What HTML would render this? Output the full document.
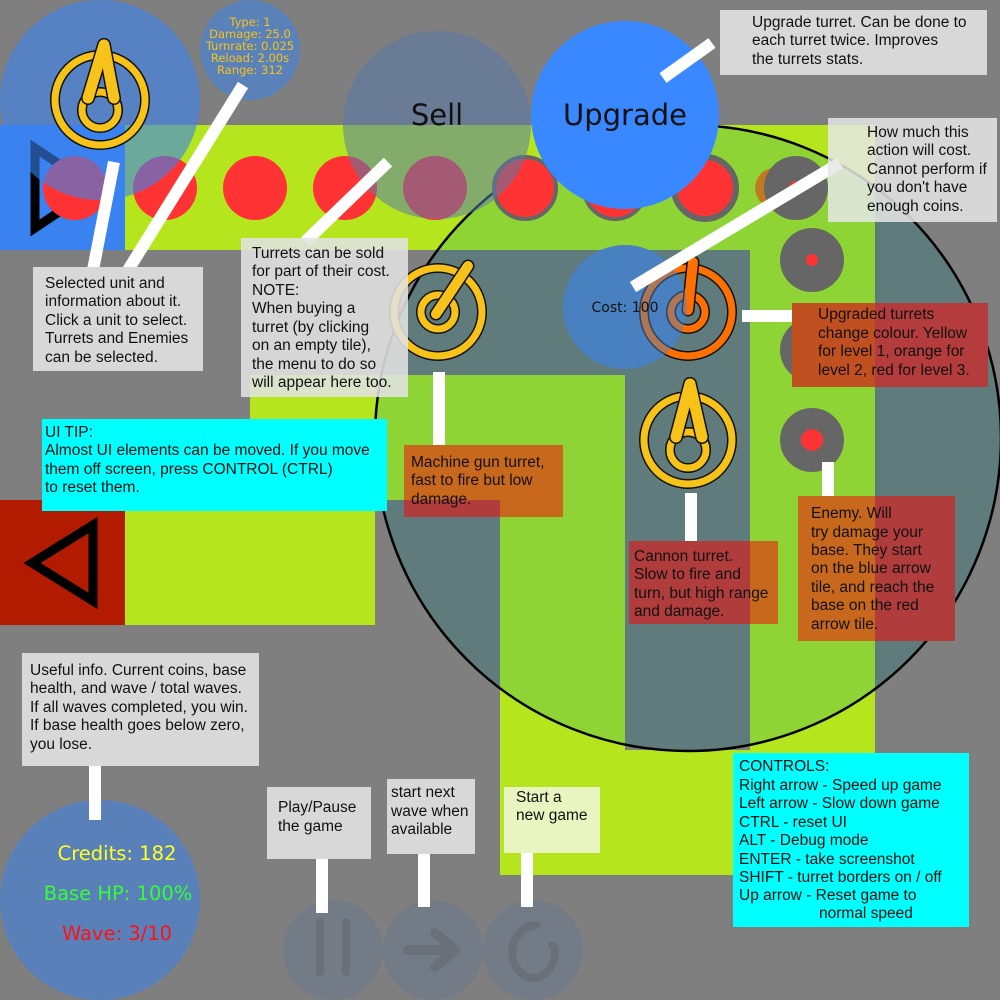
<!DOCTYPE html>
<html><head><meta charset="utf-8"><style>
html,body{margin:0;padding:0;background:#7f7f7f;}
svg{display:block}
.t{font-family:"Liberation Sans",Arial,sans-serif;font-size:15.5px;fill:#111}
.d{font-family:"DejaVu Sans",sans-serif}
</style></head><body>
<svg width="1000" height="1000" viewBox="0 0 1000 1000">
<defs><clipPath id="rc"><circle cx="688" cy="438" r="313"/></clipPath></defs>
<rect width="1000" height="1000" fill="#7f7f7f"/>
<g fill="#b5e61d">
<rect x="0" y="125" width="125" height="125" fill="#3a82f0"/>
<rect x="125" y="125" width="750" height="125"/>
<rect x="750" y="125" width="125" height="750"/>
<rect x="500" y="750" width="375" height="125"/>
<rect x="500" y="375" width="125" height="500"/>
<rect x="250" y="375" width="375" height="125"/>
<rect x="250" y="375" width="125" height="250"/>
<rect x="125" y="500" width="250" height="125"/>
<rect x="0" y="500" width="125" height="125" fill="#b21b00"/>
</g>
<polygon points="35,148 35,228 95,188" fill="none" stroke="#000" stroke-width="9"/>
<polygon points="32,563 93,525 93,601" fill="none" stroke="#000" stroke-width="9"/>
<g clip-path="url(#rc)">
<rect width="1000" height="1000" fill="#607b7c"/>
<g fill="#8fd435">
<rect x="125" y="125" width="750" height="125"/>
<rect x="750" y="125" width="125" height="750"/>
<rect x="500" y="750" width="375" height="125"/>
<rect x="500" y="375" width="125" height="500"/>
<rect x="250" y="375" width="375" height="125"/>
<rect x="250" y="375" width="125" height="250"/>
<rect x="125" y="500" width="250" height="125"/>
</g></g>
<circle cx="688" cy="438" r="313" fill="none" stroke="#000" stroke-width="2.5"/>
<g>
<circle cx="75" cy="188" r="32" fill="#ff3333"/>
<circle cx="165" cy="188" r="32" fill="#ff3333"/>
<circle cx="255" cy="188" r="32" fill="#ff3333"/>
<circle cx="345" cy="188" r="32" fill="#ff3333"/>
<circle cx="435" cy="188" r="32" fill="#ff3333"/>
<circle cx="525" cy="188" r="31" fill="#ff3333" stroke="#666" stroke-width="4"/>
<circle cx="615" cy="188" r="31" fill="#ff3333" stroke="#666" stroke-width="4"/>
<circle cx="705" cy="188" r="31" fill="#ff3333" stroke="#666" stroke-width="6"/>
<circle cx="775" cy="188" r="20" fill="#c07a20"/>
<circle cx="796" cy="188" r="32" fill="#666"/><circle cx="796" cy="188" r="7" fill="#ff3333"/>
<circle cx="812" cy="260" r="32" fill="#666"/><circle cx="812" cy="260" r="6" fill="#ff3333"/>
<circle cx="812" cy="350" r="32" fill="#666"/><circle cx="812" cy="350" r="15" fill="#ff2020"/>
<circle cx="812" cy="440" r="32" fill="#666"/><circle cx="812" cy="440" r="11" fill="#ff3333"/>
</g>
<circle cx="100" cy="100" r="100" fill="#3a82f0" fill-opacity="0.6"/>
<circle cx="250" cy="50" r="50" fill="#5a82b9"/>
<g class="d" font-size="11.5" fill="#f7c21a" text-anchor="middle">
<text x="250" y="26">Type: 1</text><text x="250" y="38">Damage: 25.0</text><text x="250" y="50">Turnrate: 0.025</text><text x="250" y="62">Reload: 2.00s</text><text x="250" y="74">Range: 312</text></g>
<circle cx="437" cy="125" r="94" fill="#5a7aa8" fill-opacity="0.55"/>
<text x="437" y="125" class="d" font-size="29" text-anchor="middle" fill="#111">Sell</text>
<circle cx="625" cy="115" r="94" fill="#3a88ff"/>
<text x="625" y="125" class="d" font-size="29" text-anchor="middle" fill="#111">Upgrade</text>
<g>
<circle cx="100" cy="100" r="45" fill="none" stroke="#111" stroke-width="10"/><circle cx="100" cy="100" r="45" fill="none" stroke="#f7c21a" stroke-width="7"/>
<circle cx="100" cy="110" r="18" fill="none" stroke="#111" stroke-width="10"/><circle cx="100" cy="110" r="18" fill="none" stroke="#f7c21a" stroke-width="7"/>
<line x1="88" y1="98" x2="104" y2="45" stroke="#111" stroke-width="14" stroke-linecap="round"/>
<line x1="114" y1="98" x2="104" y2="45" stroke="#111" stroke-width="14" stroke-linecap="round"/>
<line x1="88" y1="98" x2="104" y2="45" stroke="#f7c21a" stroke-width="11" stroke-linecap="round"/>
<line x1="114" y1="98" x2="104" y2="45" stroke="#f7c21a" stroke-width="11" stroke-linecap="round"/></g>
<circle cx="625" cy="307" r="62" fill="#4a80c0"/>
<g>
<circle cx="438" cy="312" r="44" fill="none" stroke="#111" stroke-width="10"/><circle cx="438" cy="312" r="44" fill="none" stroke="#f7c21a" stroke-width="7"/>
<circle cx="438" cy="312" r="17" fill="none" stroke="#111" stroke-width="10"/><circle cx="438" cy="312" r="17" fill="none" stroke="#f7c21a" stroke-width="7"/>
<line x1="436" y1="314" x2="468" y2="266" stroke="#111" stroke-width="13" stroke-linecap="round"/>
<line x1="436" y1="314" x2="468" y2="266" stroke="#f7c21a" stroke-width="10" stroke-linecap="round"/></g>
<g>
<circle cx="688" cy="312" r="44" fill="none" stroke="#111" stroke-width="10"/><circle cx="688" cy="312" r="44" fill="none" stroke="#ff7000" stroke-width="7"/>
<circle cx="688" cy="312" r="17" fill="none" stroke="#111" stroke-width="10"/><circle cx="688" cy="312" r="17" fill="none" stroke="#ff7000" stroke-width="7"/>
<line x1="688" y1="310" x2="693" y2="262" stroke="#111" stroke-width="13" stroke-linecap="round"/>
<line x1="688" y1="310" x2="693" y2="262" stroke="#ff7000" stroke-width="10" stroke-linecap="round"/></g>
<circle cx="625" cy="307" r="62" fill="#4a80c0" fill-opacity="0.45"/>
<text x="625" y="312" class="d" font-size="14" text-anchor="middle" fill="#111">Cost: 100</text>
<g>
<circle cx="688" cy="440" r="44" fill="none" stroke="#111" stroke-width="10"/><circle cx="688" cy="440" r="44" fill="none" stroke="#f7c21a" stroke-width="7"/>
<circle cx="688" cy="450" r="18" fill="none" stroke="#111" stroke-width="10"/><circle cx="688" cy="450" r="18" fill="none" stroke="#f7c21a" stroke-width="7"/>
<line x1="676" y1="437" x2="690" y2="384" stroke="#111" stroke-width="14" stroke-linecap="round"/>
<line x1="702" y1="437" x2="690" y2="384" stroke="#111" stroke-width="14" stroke-linecap="round"/>
<line x1="676" y1="437" x2="690" y2="384" stroke="#f7c21a" stroke-width="11" stroke-linecap="round"/>
<line x1="702" y1="437" x2="690" y2="384" stroke="#f7c21a" stroke-width="11" stroke-linecap="round"/></g>
<circle cx="100" cy="900" r="100" fill="#5a80ba"/>
<g class="d" font-size="19.5" text-anchor="middle">
<text x="117" y="860" fill="#ffff22">Credits: 182</text><text x="118" y="900" fill="#33ff33">Base HP: 100%</text><text x="117" y="940" fill="#ff1111">Wave: 3/10</text></g>
<g>
<circle cx="333" cy="950" r="50" fill="#737b87"/>
<line x1="320" y1="922" x2="320" y2="972" stroke="#6a7079" stroke-width="8" stroke-linecap="round"/><line x1="346" y1="922" x2="346" y2="972" stroke="#6a7079" stroke-width="8" stroke-linecap="round"/>
<circle cx="433" cy="950" r="50" fill="#737b87"/>
<path d="M408 950 H455 M435 933 L455 950 L435 967" fill="none" stroke="#6a7079" stroke-width="10" stroke-linecap="round" stroke-linejoin="round"/>
<circle cx="533" cy="950" r="50" fill="#737b87"/>
<path d="M536 925 C505 928 505 975 533 978 C552 978 560 950 552 945" fill="none" stroke="#6a7079" stroke-width="8" stroke-linecap="round"/>
</g>
<g stroke="#fff" stroke-width="12">
<line x1="114" y1="162" x2="93" y2="270"/><line x1="243" y1="85" x2="125" y2="275"/>
<line x1="388" y1="162" x2="305" y2="242"/><line x1="712" y1="43" x2="663" y2="78"/>
<line x1="840" y1="163" x2="633" y2="287"/><line x1="742" y1="316" x2="795" y2="316"/>
<line x1="439" y1="372" x2="439" y2="447"/><line x1="691" y1="493" x2="691" y2="541"/>
<line x1="828" y1="462" x2="828" y2="500"/><line x1="95" y1="737" x2="95" y2="820"/>
<line x1="322" y1="849" x2="322" y2="913"/><line x1="424" y1="852" x2="424" y2="907"/><line x1="527" y1="852" x2="527" y2="907"/>
</g>
<g>
<rect x="720" y="10" width="267" height="65" fill="#d8d8d8"/>
<text class="t"><tspan x="752" y="27">Upgrade turret. Can be done to</tspan><tspan x="752" y="45">each turret twice. Improves</tspan><tspan x="752" y="64">the turrets stats.</tspan></text>
<rect x="828" y="118" width="169" height="104" fill="#e6e6e6" fill-opacity="0.85"/>
<text class="t"><tspan x="867" y="137">How much this</tspan><tspan x="867" y="155">action will cost.</tspan><tspan x="867" y="174">Cannot perform if</tspan><tspan x="867" y="192">you don't have</tspan><tspan x="867" y="211">enough coins.</tspan></text>
<rect x="33" y="267" width="170" height="104" fill="#d8d8d8"/>
<text class="t"><tspan x="45" y="288">Selected unit and</tspan><tspan x="45" y="306">information about it.</tspan><tspan x="45" y="325">Click a unit to select.</tspan><tspan x="45" y="343">Turrets and Enemies</tspan><tspan x="45" y="362">can be selected.</tspan></text>
<rect x="241" y="238" width="167" height="159" fill="#e2e2e2" fill-opacity="0.88"/>
<text class="t"><tspan x="252" y="258">Turrets can be sold</tspan><tspan x="252" y="276">for part of their cost.</tspan><tspan x="252" y="295">NOTE:</tspan><tspan x="252" y="313">When buying a</tspan><tspan x="252" y="332">turret (by clicking</tspan><tspan x="252" y="350">on an empty tile),</tspan><tspan x="252" y="369">the menu to do so</tspan><tspan x="252" y="387">will appear here too.</tspan></text>
<rect x="42" y="419" width="345" height="92" fill="#00ffff"/>
<text class="t"><tspan x="45" y="437">UI TIP:</tspan><tspan x="45" y="455">Almost UI elements can be moved. If you move</tspan><tspan x="45" y="474">them off screen, press CONTROL (CTRL)</tspan><tspan x="45" y="492">to reset them.</tspan></text>
<rect x="404" y="445" width="159" height="72" fill="#c8681c"/>
<rect x="404" y="500" width="96" height="17" fill="#b03c3c"/>
<text class="t"><tspan x="411" y="467">Machine gun turret,</tspan><tspan x="411" y="485">fast to fire but low</tspan><tspan x="411" y="504">damage.</tspan></text>
<rect x="629" y="541" width="149" height="83" fill="#b03c3c"/>
<rect x="750" y="541" width="28" height="83" fill="#c8681c"/>
<text class="t"><tspan x="634" y="561">Cannon turret.</tspan><tspan x="634" y="579">Slow to fire and</tspan><tspan x="634" y="598">turn, but high range</tspan><tspan x="634" y="616">and damage.</tspan></text>
<rect x="792" y="303" width="196" height="84" fill="#b43c3c"/>
<rect x="792" y="303" width="83" height="84" fill="#c05020"/>
<text class="t"><tspan x="818" y="319">Upgraded turrets</tspan><tspan x="818" y="338">change colour. Yellow</tspan><tspan x="818" y="356">for level 1, orange for</tspan><tspan x="818" y="375">level 2, red for level 3.</tspan></text>
<rect x="798" y="496" width="157" height="145" fill="#b03c3c"/>
<rect x="798" y="496" width="77" height="145" fill="#c8681c"/>
<text class="t"><tspan x="811" y="518">Enemy. Will</tspan><tspan x="811" y="537">try damage your</tspan><tspan x="811" y="555">base. They start</tspan><tspan x="811" y="573">on the blue arrow</tspan><tspan x="811" y="592">tile, and reach the</tspan><tspan x="811" y="610">base on the red</tspan><tspan x="811" y="629">arrow tile.</tspan></text>
<rect x="22" y="653" width="237" height="113" fill="#d8d8d8"/>
<text class="t"><tspan x="30" y="675">Useful info. Current coins, base</tspan><tspan x="30" y="693">health, and wave / total waves.</tspan><tspan x="30" y="712">If all waves completed, you win.</tspan><tspan x="30" y="730">If base health goes below zero,</tspan><tspan x="30" y="749">you lose.</tspan></text>
<rect x="267" y="787" width="104" height="72" fill="#d8d8d8"/>
<text class="t"><tspan x="278" y="812">Play/Pause</tspan><tspan x="278" y="831">the game</tspan></text>
<rect x="387" y="779" width="88" height="75" fill="#d8d8d8"/>
<text class="t"><tspan x="391" y="797">start next</tspan><tspan x="391" y="816">wave when</tspan><tspan x="391" y="834">available</tspan></text>
<rect x="504" y="787" width="96" height="66" fill="#e8f5c0"/>
<text class="t"><tspan x="516" y="802">Start a</tspan><tspan x="516" y="820">new game</tspan></text>
<rect x="733" y="753" width="236" height="174" fill="#00ffff"/>
<text class="t"><tspan x="739" y="771">CONTROLS:</tspan><tspan x="739" y="790">Right arrow - Speed up game</tspan><tspan x="739" y="808">Left arrow - Slow down game</tspan><tspan x="739" y="827">CTRL - reset UI</tspan><tspan x="739" y="845">ALT - Debug mode</tspan><tspan x="739" y="864">ENTER - take screenshot</tspan><tspan x="739" y="882">SHIFT - turret borders on / off</tspan><tspan x="739" y="900">Up arrow - Reset game to</tspan><tspan x="819" y="918">normal speed</tspan></text>
</g>
</svg>
</body></html>
